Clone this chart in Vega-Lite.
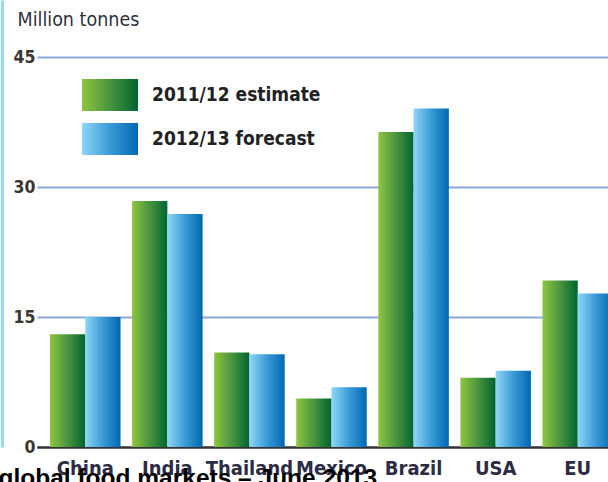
{
  "$schema": "https://vega.github.io/schema/vega-lite/v6.json",
  "autosize": "none",
  "width": 564,
  "height": 447,
  "padding": {"left": 44, "top": 0, "right": 0, "bottom": 35},
  "background": "#ffffff",
  "data": {
    "values": [
      {"country": "China", "season": "2011/12 estimate", "value": 13.0},
      {"country": "China", "season": "2012/13 forecast", "value": 15.0},
      {"country": "India", "season": "2011/12 estimate", "value": 28.4},
      {"country": "India", "season": "2012/13 forecast", "value": 26.9},
      {"country": "Thailand", "season": "2011/12 estimate", "value": 10.9},
      {"country": "Thailand", "season": "2012/13 forecast", "value": 10.7},
      {"country": "Mexico", "season": "2011/12 estimate", "value": 5.6},
      {"country": "Mexico", "season": "2012/13 forecast", "value": 6.9},
      {"country": "Brazil", "season": "2011/12 estimate", "value": 36.35},
      {"country": "Brazil", "season": "2012/13 forecast", "value": 39.05},
      {"country": "USA", "season": "2011/12 estimate", "value": 8.0},
      {"country": "USA", "season": "2012/13 forecast", "value": 8.8},
      {"country": "EU", "season": "2011/12 estimate", "value": 19.2},
      {"country": "EU", "season": "2012/13 forecast", "value": 17.7}
    ]
  },
  "mark": {
    "type": "bar",
    "strokeWidth": 0,
    "fill": {"expr": "(datum.season || datum.value) === '2011/12 estimate' ? {gradient: 'linear', x1: 0, y1: 0, x2: 1, y2: 0, stops: [{offset: 0, color: '#8dc63f'}, {offset: 0.5, color: '#4a9440'}, {offset: 1, color: '#00652f'}]} : {gradient: 'linear', x1: 0, y1: 0, x2: 1, y2: 0, stops: [{offset: 0, color: '#8ed6f7'}, {offset: 0.5, color: '#3a9ad6'}, {offset: 1, color: '#0068b2'}]}"}
  },
  "encoding": {
    "x": {
      "field": "country",
      "type": "nominal",
      "sort": null,
      "scale": {"range": [-7, 582], "paddingInner": 0.1408, "paddingOuter": 0.1584},
      "axis": {
        "title": "global food markets – June 2013",
        "titleFont": "Liberation Sans",
        "titleFontSize": 24.5,
        "titleFontWeight": "bold",
        "titleColor": "#000000",
        "titleAnchor": "start",
        "titleAlign": "left",
        "titleBaseline": "alphabetic",
        "titleX": -46,
        "titleY": 38.5,
        "labelAngle": 0,
        "labelFont": "DejaVu Sans Condensed",
        "labelFontSize": 20,
        "labelFontWeight": "bold",
        "labelColor": "#2c2c44",
        "labelBaseline": "alphabetic",
        "labelPadding": 27.5,
        "ticks": false,
        "tickSize": 0,
        "domain": true,
        "domainColor": "#333333",
        "domainWidth": 2,
        "grid": false
      }
    },
    "xOffset": {
      "field": "season",
      "type": "nominal",
      "sort": null,
      "scale": {"paddingInner": 0, "paddingOuter": 0}
    },
    "y": {
      "field": "value",
      "type": "quantitative",
      "scale": {"domain": [0, 51.58], "nice": false, "zero": true},
      "axis": {
        "title": "Million tonnes",
        "titleFont": "DejaVu Sans Condensed",
        "titleFontSize": 19.5,
        "titleFontWeight": "normal",
        "titleColor": "#30303c",
        "titleAngle": 0,
        "titleAlign": "left",
        "titleBaseline": "alphabetic",
        "titleX": 15,
        "titleY": 25,
        "values": [0, 15, 30, 45],
        "offset": 42,
        "domain": true,
        "domainColor": "#92d9f2",
        "domainWidth": 3,
        "ticks": false,
        "tickSize": 0,
        "labelPadding": -33,
        "labelAlign": "right",
        "labelBaseline": "middle",
        "labelFont": "DejaVu Sans Condensed",
        "labelFontSize": 17.5,
        "labelFontWeight": "bold",
        "labelColor": "#3b3630",
        "grid": true,
        "gridColor": {"condition": {"test": "datum.value === 0", "value": "#333333"}, "value": "#8ea7da"},
        "gridWidth": 2
      }
    },
    "stroke": {
      "field": "season",
      "type": "nominal",
      "sort": null,
      "scale": {
        "domain": ["2011/12 estimate", "2012/13 forecast"],
        "range": ["#4a9440", "#3a9ad6"]
      },
      "legend": {
        "title": null,
        "orient": "none",
        "legendX": 38,
        "legendY": 67,
        "padding": 0,
        "symbolType": "M-1,-0.5714H1V0.5714H-1Z",
        "symbolSize": 3136,
        "symbolStrokeWidth": 0,
        "labelOffset": 14,
        "rowPadding": -0.5,
        "labelFont": "DejaVu Sans Condensed",
        "labelFontSize": 19,
        "labelFontWeight": "bold",
        "labelColor": "#222222",
        "labelLimit": 300
      }
    }
  },
  "config": {
    "view": {"stroke": null}
  }
}
